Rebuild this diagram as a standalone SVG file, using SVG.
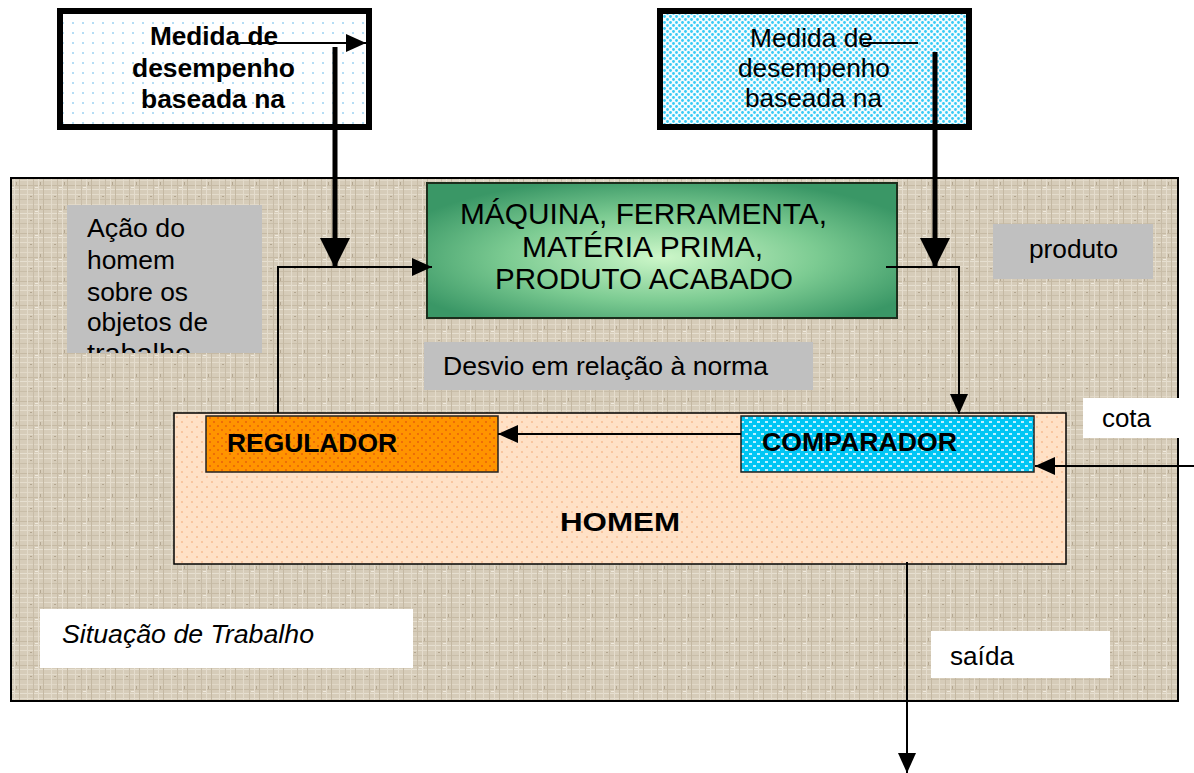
<svg xmlns="http://www.w3.org/2000/svg" width="1194" height="773" viewBox="0 0 1194 773">
<style>
.t{font-family:"Liberation Sans",Arial,sans-serif;font-size:25px;fill:#000}
.b{font-weight:bold;font-size:26px}
.i{font-style:italic}
.g{font-size:30px}
.thin{stroke:#000;stroke-width:2;fill:none}
.thick{stroke:#000;stroke-width:5;fill:none}
.gray{fill:#c0c0c0}
.white{fill:#fff}
</style>
<defs>
<pattern id="linen" width="24" height="24" patternUnits="userSpaceOnUse">
<rect width="24" height="24" fill="#d6ccb9"/>
<rect y="2" width="24" height="1" fill="#e4dccc"/>
<rect y="7" width="24" height="1" fill="#c9bea9"/>
<rect y="12" width="24" height="1" fill="#e1d8c7"/>
<rect y="17" width="24" height="1" fill="#c6baa4"/>
<rect y="21" width="24" height="1" fill="#e6dfd0"/>
<rect x="3" width="1" height="24" fill="#e3dbcb"/>
<rect x="9" width="1" height="24" fill="#c8bca7"/>
<rect x="14" width="1" height="24" fill="#e5ddce"/>
<rect x="19" width="1" height="24" fill="#c4b8a2"/>
<rect x="6" y="4" width="2" height="1" fill="#b3a690"/>
<rect x="16" y="14" width="1" height="3" fill="#b5a892"/>
<rect x="11" y="19" width="3" height="1" fill="#efe9dd"/>
</pattern>
<pattern id="dotsA" width="10" height="10" patternUnits="userSpaceOnUse">
<rect width="10" height="10" fill="#fff"/>
<circle cx="3" cy="3" r="1" fill="#9cd2f2"/>
</pattern>
<pattern id="dotsB" width="6" height="6" patternUnits="userSpaceOnUse">
<rect width="6" height="6" fill="#f4fcff"/>
<circle cx="1.5" cy="1.5" r="1.4" fill="#38cbf5"/>
<circle cx="4.5" cy="4.5" r="1.4" fill="#38cbf5"/>
</pattern>
<pattern id="peach" width="10" height="10" patternUnits="userSpaceOnUse">
<rect width="10" height="10" fill="#ffe1c6"/>
<circle cx="2" cy="2" r="1" fill="#f7bd94"/>
<circle cx="7" cy="7" r="1" fill="#f7bd94"/>
</pattern>
<pattern id="orange" width="8" height="8" patternUnits="userSpaceOnUse">
<rect width="8" height="8" fill="#ff9400"/>
<circle cx="2" cy="2" r="1" fill="#e8600a"/>
<circle cx="6" cy="6" r="1" fill="#e8600a"/>
</pattern>
<pattern id="cyan" width="8" height="8" patternUnits="userSpaceOnUse">
<rect width="8" height="8" fill="#00c6f4"/>
<rect x="1" y="1" width="3" height="2" fill="#bff0ff"/>
<rect x="5" y="5" width="3" height="2" fill="#bff0ff"/>
</pattern>
<radialGradient id="green" cx="50%" cy="55%" r="60%">
<stop offset="0" stop-color="#cdf7c9"/>
<stop offset="0.55" stop-color="#7ccb92"/>
<stop offset="1" stop-color="#3a9766"/>
</radialGradient>
<clipPath id="acaoClip"><rect x="67" y="205" width="195" height="148"/></clipPath>
<marker id="ah" markerUnits="userSpaceOnUse" markerWidth="20" markerHeight="20" refX="20" refY="10" orient="auto" viewBox="0 0 20 20">
<path d="M0,1 L20,10 L0,19 z" fill="#000"/>
</marker>
<marker id="ahBig" markerUnits="userSpaceOnUse" markerWidth="30" markerHeight="30" refX="30" refY="15" orient="auto" viewBox="0 0 30 30">
<path d="M0,0 L30,15 L0,30 z" fill="#000"/>
</marker>
</defs>
<rect width="1194" height="773" fill="#fff"/>

<g id="situacao-frame">
<rect x="11" y="178" width="1167" height="523" fill="url(#linen)" stroke="#000" stroke-width="2"/>
</g>

<g id="medida-left">
<rect x="60" y="11" width="309" height="116" fill="url(#dotsA)" stroke="#000" stroke-width="6"/>
<text class="t b" x="150" y="45" textLength="128" lengthAdjust="spacingAndGlyphs">Medida de</text>
<text class="t b" x="132" y="77" textLength="163" lengthAdjust="spacingAndGlyphs">desempenho</text>
<text class="t b" x="141" y="108" textLength="144" lengthAdjust="spacingAndGlyphs">baseada na</text>
</g>

<g id="medida-right">
<rect x="660" y="11" width="309" height="116" fill="url(#dotsB)" stroke="#000" stroke-width="6"/>
<text class="t" x="750" y="47" textLength="123" lengthAdjust="spacingAndGlyphs">Medida de</text>
<text class="t" x="738" y="77" textLength="152" lengthAdjust="spacingAndGlyphs">desempenho</text>
<text class="t" x="745" y="107" textLength="137" lengthAdjust="spacingAndGlyphs">baseada na</text>
</g>

<g id="acao">
<rect class="gray" x="67" y="205" width="195" height="148"/>
<g clip-path="url(#acaoClip)">
<text class="t" x="87" y="237" textLength="98" lengthAdjust="spacingAndGlyphs">Ação do</text>
<text class="t" x="87" y="269" textLength="88" lengthAdjust="spacingAndGlyphs">homem</text>
<text class="t" x="87" y="301" textLength="101" lengthAdjust="spacingAndGlyphs">sobre os</text>
<text class="t" x="87" y="331" textLength="121" lengthAdjust="spacingAndGlyphs">objetos de</text>
<text class="t" x="87" y="362" textLength="104" lengthAdjust="spacingAndGlyphs">trabalho</text>
</g>
</g>

<g id="maquina">
<rect x="427" y="183" width="470" height="135" fill="url(#green)" stroke="#1c2e1c" stroke-width="2"/>
<text class="t g" x="460" y="224" textLength="367" lengthAdjust="spacingAndGlyphs">MÁQUINA, FERRAMENTA,</text>
<text class="t g" x="522" y="257" textLength="241" lengthAdjust="spacingAndGlyphs">MATÉRIA PRIMA,</text>
<text class="t g" x="495" y="289" textLength="298" lengthAdjust="spacingAndGlyphs">PRODUTO ACABADO</text>
</g>

<g id="produto">
<rect class="gray" x="993" y="224" width="160" height="55"/>
<text class="t" x="1029" y="258" textLength="89" lengthAdjust="spacingAndGlyphs">produto</text>
</g>

<g id="desvio">
<rect class="gray" x="424" y="342" width="389" height="48"/>
<text class="t" x="443" y="375" textLength="325" lengthAdjust="spacingAndGlyphs">Desvio em relação à norma</text>
</g>

<g id="homem">
<rect x="174" y="413" width="892" height="151" fill="url(#peach)" stroke="#000" stroke-width="1.5"/>
<text class="t b" x="560" y="531" textLength="120" lengthAdjust="spacingAndGlyphs">HOMEM</text>
</g>

<g id="regulador">
<rect x="206" y="416" width="292" height="56" fill="url(#orange)" stroke="#222" stroke-width="1.5"/>
<text class="t b" x="227" y="452" textLength="170" lengthAdjust="spacingAndGlyphs">REGULADOR</text>
</g>

<g id="comparador">
<rect x="741" y="416" width="293" height="56" fill="url(#cyan)" stroke="#222" stroke-width="1.5"/>
<text class="t b" x="762" y="451" textLength="195" lengthAdjust="spacingAndGlyphs">COMPARADOR</text>
</g>

<g id="cota">
<rect class="white" x="1083" y="398" width="97" height="40"/>
<text class="t" x="1102" y="427" textLength="49" lengthAdjust="spacingAndGlyphs">cota</text>
</g>

<g id="saida">
<rect class="white" x="931" y="631" width="179" height="47"/>
<text class="t" x="950" y="665" textLength="64" lengthAdjust="spacingAndGlyphs">saída</text>
</g>

<g id="situacao">
<rect class="white" x="40" y="609" width="373" height="59"/>
<text class="t i" x="62" y="643" textLength="252" lengthAdjust="spacingAndGlyphs">Situação de Trabalho</text>
</g>

<g id="connectors">
<line class="thin" x1="237" y1="43" x2="366" y2="43" marker-end="url(#ah)"/>
<line class="thin" x1="863" y1="43" x2="918" y2="43"/>
<line class="thick" x1="335" y1="47" x2="335" y2="268" marker-end="url(#ahBig)"/>
<line class="thick" x1="935" y1="52" x2="935" y2="268" marker-end="url(#ahBig)"/>
<polyline class="thin" points="278,413 278,267 432,267" marker-end="url(#ah)"/>
<polyline class="thin" points="886,267 959,267 959,414" marker-end="url(#ah)"/>
<line class="thin" x1="741" y1="434" x2="498" y2="434" marker-end="url(#ah)"/>
<line class="thin" x1="1194" y1="466" x2="1035" y2="466" marker-end="url(#ah)"/>
<line class="thin" x1="907" y1="562" x2="907" y2="773" marker-end="url(#ah)"/>
</g>
</svg>
